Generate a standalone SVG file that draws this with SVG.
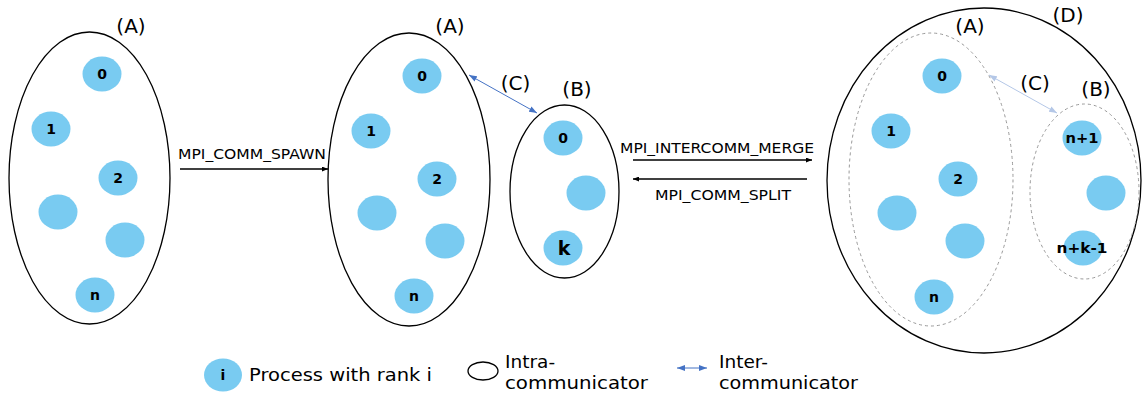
<svg xmlns="http://www.w3.org/2000/svg" width="1142" height="396" viewBox="0 0 1142 396">
<style>
.comm{fill:none;stroke:#000;stroke-width:1.3}
.dash{fill:none;stroke:#999;stroke-width:1;stroke-dasharray:3 3}
.p{fill:#79CBF1}
.n{font-family:"DejaVu Sans",sans-serif;font-weight:bold;font-size:14px;text-anchor:middle;fill:#000}
.lbl{font-family:"DejaVu Sans",sans-serif;font-size:20px;text-anchor:middle;fill:#000}
.op{font-family:"DejaVu Sans",sans-serif;font-size:14px;fill:#000}
.leg{font-family:"DejaVu Sans",sans-serif;font-size:18.5px;fill:#000}
.arr{stroke:#000;stroke-width:1.5;fill:none}
.inter{stroke:#4472C4;stroke-width:1;fill:none}
.interl{stroke:#B4C7E7;stroke-width:1;fill:none}
</style>
<defs>
<marker id="ah" viewBox="0 0 10 10" refX="10" refY="5" markerWidth="6" markerHeight="5" markerUnits="userSpaceOnUse" orient="auto" preserveAspectRatio="none"><path d="M0,0L10,5L0,10z" fill="#000"/></marker>
<marker id="bh" viewBox="0 0 10 10" refX="10" refY="5" markerWidth="8" markerHeight="6" markerUnits="userSpaceOnUse" orient="auto-start-reverse" preserveAspectRatio="none"><path d="M0,0L10,5L0,10z" fill="#4472C4"/></marker>
<marker id="lh" viewBox="0 0 10 10" refX="10" refY="5" markerWidth="8" markerHeight="6" markerUnits="userSpaceOnUse" orient="auto-start-reverse" preserveAspectRatio="none"><path d="M0,0L10,5L0,10z" fill="#B4C7E7"/></marker>
</defs>

<g id="commA1">
<ellipse class="comm" cx="89.5" cy="178" rx="80.5" ry="146"/>
<text class="lbl" x="131" y="33">(A)</text>
<ellipse class="p" cx="102" cy="74" rx="19.5" ry="17.5"/><text class="n" x="102" y="79">0</text>
<ellipse class="p" cx="51" cy="129" rx="19.5" ry="17.5"/><text class="n" x="51" y="134">1</text>
<ellipse class="p" cx="118" cy="178" rx="19.5" ry="17.5"/><text class="n" x="118" y="183">2</text>
<ellipse class="p" cx="58" cy="212" rx="19.5" ry="17.5"/>
<ellipse class="p" cx="125" cy="240" rx="19.5" ry="17.5"/>
<ellipse class="p" cx="95" cy="295" rx="19.5" ry="17.5"/><text class="n" x="95" y="300">n</text>
</g>

<g id="commA2">
<ellipse class="comm" cx="409" cy="179.5" rx="81" ry="146.5"/>
<text class="lbl" x="450" y="33">(A)</text>
<ellipse class="p" cx="422" cy="76" rx="19.5" ry="17.5"/><text class="n" x="422" y="81">0</text>
<ellipse class="p" cx="371" cy="131" rx="19.5" ry="17.5"/><text class="n" x="371" y="136">1</text>
<ellipse class="p" cx="437" cy="179" rx="19.5" ry="17.5"/><text class="n" x="437" y="184">2</text>
<ellipse class="p" cx="377" cy="213" rx="19.5" ry="17.5"/>
<ellipse class="p" cx="445" cy="241" rx="19.5" ry="17.5"/>
<ellipse class="p" cx="414" cy="296" rx="19.5" ry="17.5"/><text class="n" x="414" y="301">n</text>
</g>

<g id="commB2">
<ellipse class="comm" cx="564.5" cy="191.5" rx="54.5" ry="86.5"/>
<text class="lbl" x="577" y="96">(B)</text>
<ellipse class="p" cx="563" cy="138" rx="19.5" ry="17.5"/><text class="n" x="563" y="143">0</text>
<ellipse class="p" cx="586" cy="193" rx="19.5" ry="17.5"/>
<ellipse class="p" cx="563" cy="248" rx="19.5" ry="17.5"/><text class="n" x="564" y="255" style="font-size:19px">k</text>
</g>

<g id="commD">
<ellipse class="comm" cx="984" cy="180.5" rx="157" ry="172.5"/>
<text class="lbl" x="1068" y="22">(D)</text>
<ellipse class="dash" cx="931" cy="179.5" rx="82" ry="146.5"/>
<text class="lbl" x="970" y="33">(A)</text>
<ellipse class="p" cx="942" cy="76" rx="19.5" ry="17.5"/><text class="n" x="942" y="81">0</text>
<ellipse class="p" cx="891" cy="131" rx="19.5" ry="17.5"/><text class="n" x="891" y="136">1</text>
<ellipse class="p" cx="958" cy="179" rx="19.5" ry="17.5"/><text class="n" x="958" y="184">2</text>
<ellipse class="p" cx="897" cy="213" rx="19.5" ry="17.5"/>
<ellipse class="p" cx="965" cy="241" rx="19.5" ry="17.5"/>
<ellipse class="p" cx="934" cy="297" rx="19.5" ry="17.5"/><text class="n" x="934" y="302">n</text>
<ellipse class="dash" cx="1084.5" cy="191.5" rx="54.5" ry="87.5"/>
<text class="lbl" x="1096" y="96">(B)</text>
<ellipse class="p" cx="1082" cy="138" rx="19.5" ry="17.5"/><text class="n" x="1082" y="143" textLength="33" lengthAdjust="spacingAndGlyphs">n+1</text>
<ellipse class="p" cx="1083" cy="248" rx="19.5" ry="17.5"/><text class="n" x="1082" y="253" textLength="51" lengthAdjust="spacingAndGlyphs">n+k-1</text>
<ellipse class="p" cx="1106" cy="193" rx="19.5" ry="17.5"/>
</g>

<g id="connectors">
<line class="arr" x1="180" y1="169" x2="328" y2="169" marker-end="url(#ah)"/>
<text class="op" x="178" y="159" textLength="148" lengthAdjust="spacingAndGlyphs">MPI_COMM_SPAWN</text>
<line class="arr" x1="633" y1="160" x2="812" y2="160" marker-end="url(#ah)"/>
<text class="op" x="620" y="153" textLength="194" lengthAdjust="spacingAndGlyphs">MPI_INTERCOMM_MERGE</text>
<line class="arr" x1="807" y1="179" x2="633" y2="179" marker-end="url(#ah)"/>
<text class="op" x="655" y="200" textLength="136" lengthAdjust="spacingAndGlyphs">MPI_COMM_SPLIT</text>
<line class="inter" x1="469" y1="75" x2="537" y2="113" marker-start="url(#bh)" marker-end="url(#bh)"/>
<text class="lbl" x="515.5" y="90">(C)</text>
<line class="interl" x1="989" y1="75" x2="1057" y2="113" marker-start="url(#lh)" marker-end="url(#lh)"/>
<text class="lbl" x="1035" y="90">(C)</text>
</g>

<g id="legend">
<ellipse class="p" cx="223" cy="375" rx="19" ry="16.5"/><text class="n" x="223" y="380">i</text>
<text class="leg" x="249" y="381" textLength="183" lengthAdjust="spacingAndGlyphs">Process with rank i</text>
<ellipse class="comm" cx="483" cy="371" rx="15" ry="9"/>
<text class="leg" x="505" y="368">Intra-</text>
<text class="leg" x="505" y="389" textLength="143" lengthAdjust="spacingAndGlyphs">communicator</text>
<line class="inter" x1="677" y1="368" x2="707" y2="368" marker-start="url(#bh)" marker-end="url(#bh)"/>
<text class="leg" x="719" y="368">Inter-</text>
<text class="leg" x="719" y="389" textLength="139" lengthAdjust="spacingAndGlyphs">communicator</text>
</g>
</svg>
